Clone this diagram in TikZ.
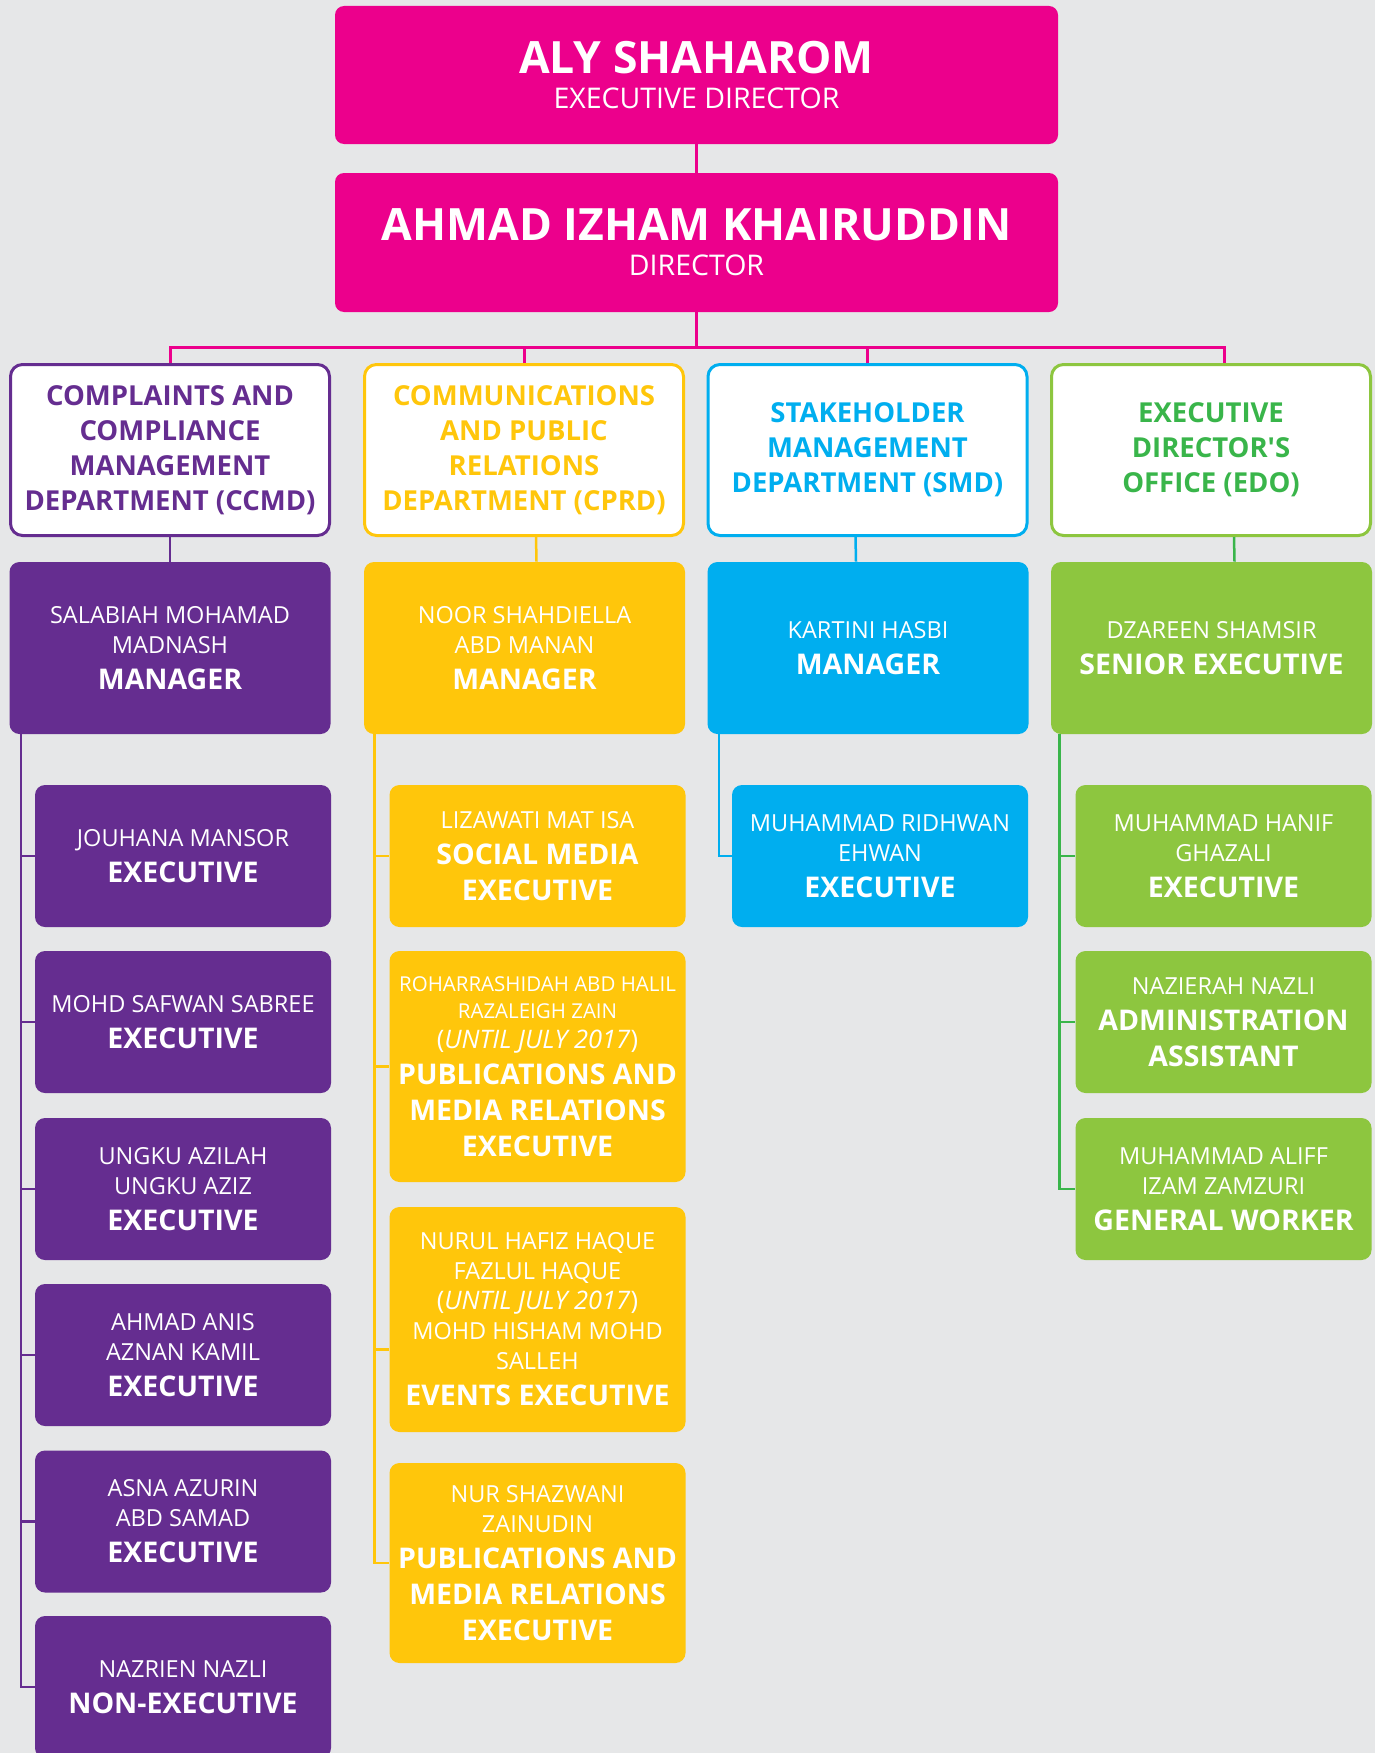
\documentclass[tikz,border=0pt]{standalone}
\usepackage{fontspec}
\setmainfont{Open Sans}
\definecolor{aspink}{HTML}{EC008C}
\definecolor{aspurple}{HTML}{652D90}
\definecolor{asyellow}{HTML}{FFC60B}
\definecolor{asblue}{HTML}{00AEEF}
\definecolor{aslime}{HTML}{8DC63F}
\definecolor{asgreen}{HTML}{39B54A}
\definecolor{asgrey}{HTML}{E6E7E8}
\newcommand\rank[1]{{\fontsize{28.5}{35}\selectfont\bfseries #1}}
\newcommand\bigname[1]{{\fontsize{44.5}{34}\selectfont\bfseries #1}}
\newcommand\until{{\fontsize{25.5}{30}\selectfont(\textit{UNTIL JULY 2017})}}
\tikzset{every picture/.style={line width=0.75pt}}
\tikzset{
	chief/.style={fill=aspink, text=white, rounded corners=9pt, minimum width=723pt, minimum height=138pt, inner sep=0pt, align=center, font=\fontsize{28.5}{35}\selectfont},
	dept/.style 2 args={draw=#1, text=#2, fill=white, line width=3pt, rounded corners=12pt, minimum width=319pt, minimum height=171pt, inner sep=0pt, align=center, font=\fontsize{27.5}{35}\selectfont\bfseries},
	mgr/.style={fill=#1, text=white, rounded corners=10pt, minimum width=321pt, minimum height=172pt, inner sep=0pt, align=center, font=\fontsize{23.5}{30}\selectfont},
	staff/.style={mgr=#1, minimum width=296pt, minimum height=142pt},
	link/.style={draw=#1, line width=2.5pt}}

\begin{document}
\begin{tikzpicture}[x=1pt,y=1pt,yscale=-1,xscale=1]
	\useasboundingbox[fill=asgrey] (0,0) rectangle (1375,1753);

	% Top boxes
	\node[chief] (exdir) at (696.5,75) {\bigname{ALY SHAHAROM}\\EXECUTIVE DIRECTOR};
	\node[chief, minimum height=139pt] (dir) at (696.5,242.5) {\bigname{AHMAD IZHAM KHAIRUDDIN}\\DIRECTOR};
	\coordinate (bus) at (696.5,347);

	% Departments
	\node[dept={aspurple}{aspurple}] (ccmd) at (170,450) {COMPLAINTS AND\\COMPLIANCE\\MANAGEMENT\\DEPARTMENT (CCMD)};
	\node[dept={asyellow}{asyellow}] (cprd) at (524,450) {COMMUNICATIONS\\AND PUBLIC\\RELATIONS\\DEPARTMENT (CPRD)};
	\node[dept={asblue}{asblue}] (smd) at (867.5,450) {STAKEHOLDER\\MANAGEMENT\\DEPARTMENT (SMD)};
	\node[dept={aslime}{asgreen}] (edo) at (1211,450) {EXECUTIVE\\DIRECTOR\textquotesingle S\\OFFICE (EDO)};

	% Managers
	\node[mgr=aspurple] (ccmdMgr) at (170,648) {SALABIAH MOHAMAD\\MADNASH\\[6pt]\rank{MANAGER}};
	\node[mgr=asyellow] (cprdMgr) at (524.5,648) {NOOR SHAHDIELLA\\ABD MANAN\\[6pt]\rank{MANAGER}};
	\node[mgr=asblue] (smdMgr) at (868,648) {KARTINI HASBI\\[6pt]\rank{MANAGER}};
	\node[mgr=aslime] (edoMgr) at (1211.5,648) {DZAREEN SHAMSIR\\[6pt]\rank{SENIOR EXECUTIVE}};

	% CCMD staff
	\node[staff=aspurple] (ccmd1) at (183,856) {JOUHANA MANSOR\\[6pt]\rank{EXECUTIVE}};
	\node[staff=aspurple] (ccmd2) at (183,1022) {MOHD SAFWAN SABREE\\[6pt]\rank{EXECUTIVE}};
	\node[staff=aspurple] (ccmd3) at (183,1189) {UNGKU AZILAH\\UNGKU AZIZ\\[6pt]\rank{EXECUTIVE}};
	\node[staff=aspurple] (ccmd4) at (183,1355) {AHMAD ANIS\\AZNAN KAMIL\\[6pt]\rank{EXECUTIVE}};
	\node[staff=aspurple] (ccmd5) at (183,1521.5) {ASNA AZURIN\\ABD SAMAD\\[6pt]\rank{EXECUTIVE}};
	\node[staff=aspurple] (ccmd6) at (183,1687) {NAZRIEN NAZLI\\[6pt]\rank{NON-EXECUTIVE}};

	% CPRD staff
	\node[staff=asyellow] (cprd1) at (537.5,856) {LIZAWATI MAT ISA\\[6pt]\rank{SOCIAL MEDIA}\\[6pt]\rank{EXECUTIVE}};
	\node[staff=asyellow, minimum height=231pt] (cprd2) at (537.5,1066.5) {{\fontsize{20.5}{27}\selectfont ROHARRASHIDAH ABD HALIL}\\[-3pt]{\fontsize{20.5}{27}\selectfont RAZALEIGH ZAIN}\\\until\\[6pt]\rank{PUBLICATIONS AND}\\[6pt]\rank{MEDIA RELATIONS}\\[6pt]\rank{EXECUTIVE}};
	\node[staff=asyellow, minimum height=225pt] (cprd3) at (537.5,1319.5) {NURUL HAFIZ HAQUE\\FAZLUL HAQUE\\\until\\MOHD HISHAM MOHD\\SALLEH\\[6pt]\rank{EVENTS EXECUTIVE}};
	\node[staff=asyellow, minimum height=200pt] (cprd4) at (537.5,1563) {NUR SHAZWANI\\ZAINUDIN\\[6pt]\rank{PUBLICATIONS AND}\\[6pt]\rank{MEDIA RELATIONS}\\[6pt]\rank{EXECUTIVE}};

	% SMD staff
	\node[staff=asblue] (smd1) at (880,856) {MUHAMMAD RIDHWAN\\EHWAN\\[6pt]\rank{EXECUTIVE}};

	% EDO staff
	\node[staff=aslime] (edo1) at (1223.5,856) {MUHAMMAD HANIF\\GHAZALI\\[6pt]\rank{EXECUTIVE}};
	\node[staff=aslime] (edo2) at (1223.5,1022) {NAZIERAH NAZLI\\[6pt]\rank{ADMINISTRATION}\\[6pt]\rank{ASSISTANT}};
	\node[staff=aslime] (edo3) at (1223.5,1189) {MUHAMMAD ALIFF\\IZAM ZAMZURI\\[6pt]\rank{GENERAL WORKER}};

	%Straight Lines
	\draw[link=aspink, line width=3pt] (exdir.south) -- (dir.north);
	\draw[link=aspink, line width=3pt] (dir.south) -- (bus);
	\draw[link=aspink, line width=3pt] (ccmd.north) |- (bus);
	\draw[link=aspink, line width=3pt] (cprd.north) |- (bus);
	\draw[link=aspink, line width=3pt] (smd.north) |- (bus);
	\draw[link=aspink, line width=3pt] ([xshift=13pt]edo.north) |- (bus);

	\draw[link=aspurple] (ccmd.south) -- (ccmdMgr.north);
	\draw[link=asyellow] ([xshift=12pt]cprd.south) -- ([xshift=12pt]cprdMgr.north);
	\draw[link=asblue] ([xshift=-12pt]smd.south) -- ([xshift=-12pt]smdMgr.north);
	\draw[link=asgreen] ([xshift=23pt]edo.south) -- ([xshift=23pt]edoMgr.north);

	\foreach \k in {1,...,6}
		\draw[link=aspurple] ([xshift=12pt]ccmdMgr.south west) |- (ccmd\k.west);
	\foreach \k/\s in {1/0,2/0,3/30,4/0}
		\draw[link=asyellow] ([xshift=11pt]cprdMgr.south west) |- ([yshift=\s pt]cprd\k.west);
	\draw[link=asblue] ([xshift=12pt]smdMgr.south west) |- (smd1.west);
	\foreach \k in {1,2,3}
		\draw[link=asgreen] ([xshift=9pt]edoMgr.south west) |- (edo\k.west);
\end{tikzpicture}
\end{document}
